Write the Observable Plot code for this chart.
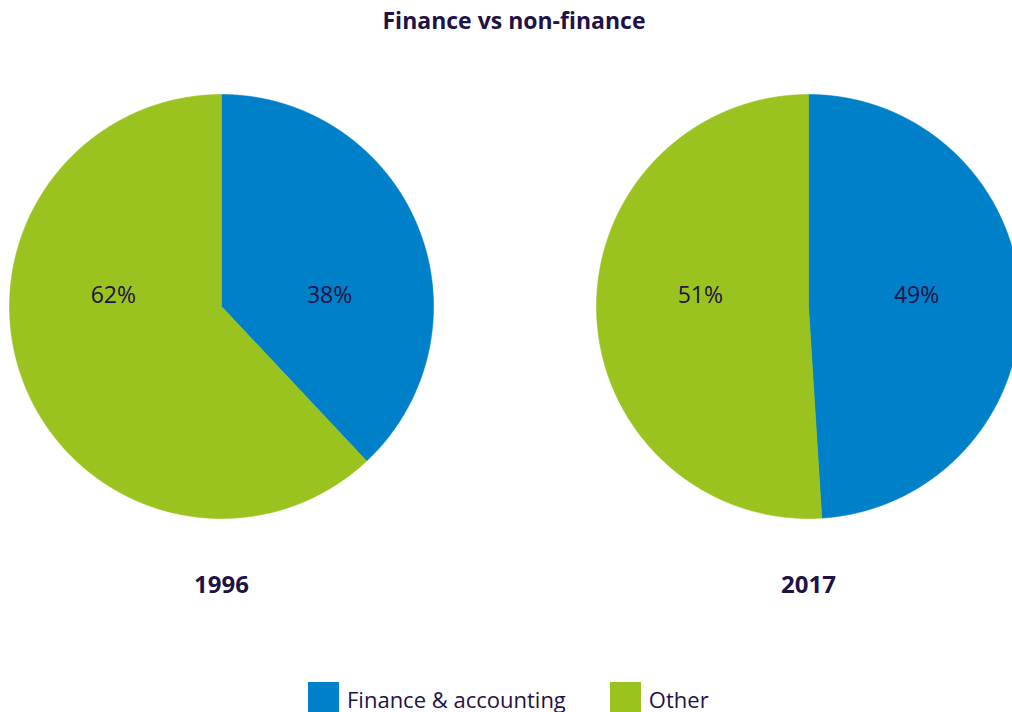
<!DOCTYPE html>
<html><head><meta charset="utf-8">
<script src="https://cdn.jsdelivr.net/npm/d3@7"></script>
<script src="https://cdn.jsdelivr.net/npm/@observablehq/plot@0.6"></script>
<style>
html,body{margin:0;padding:0;}
body{width:1012px;height:712px;overflow:hidden;background:#fff;font-family:"Open Sans",sans-serif;color:#1e1246;}
#title{box-sizing:border-box;width:1012px;height:45px;line-height:40px;font-size:23px;font-weight:bold;text-align:center;padding-left:16px;}
#chart{height:605px;}
#legend{display:flex;align-items:flex-start;padding-left:308px;margin-top:32px;}
.sw{width:31px;height:30px;flex:none;}
.lab{font-size:22px;line-height:30px;padding-top:2px;margin-left:8px;margin-right:44px;white-space:nowrap;}
</style></head>
<body>
<div id="title">Finance vs non-finance</div>
<div id="chart"></div>
<div id="legend"></div>
<script>
const years = ["1996", "2017"];
const categories = ["Finance & accounting", "Other"];
const financeShare = [38, 49];
const otherShare = [62, 51];
const palette = ["#0080c8", "#9bc31f"];
const navy = "#1e1246";

const pie = d3.pie().sort(null).value(d => d.value);
const wedges = [], labels = [];
years.forEach((year, i) => {
  const slices = pie([
    {category: categories[0], value: financeShare[i]},
    {category: categories[1], value: otherShare[i]}
  ]);
  for (const s of slices) {
    const key = year + "|" + s.data.category;
    const cat = s.data.category;
    wedges.push({year, key, category: cat, x: 0, y: 0});
    const n = Math.max(2, Math.ceil((s.endAngle - s.startAngle) / 0.005));
    for (let k = 0; k <= n; k++) {
      const a = s.startAngle + (s.endAngle - s.startAngle) * k / n;
      wedges.push({year, key, category: cat, x: Math.sin(a), y: Math.cos(a)});
    }
    wedges.push({year, key, category: cat, x: 0, y: 0});
    const mid = (s.startAngle + s.endAngle) / 2;
    labels.push({year, x: Math.sign(Math.sin(mid)) * 0.51, y: 0.05, text: s.data.value + "%"});
  }
});

const chart = Plot.plot({
  width: 1012, height: 605,
  marginTop: 49, marginBottom: 132, marginLeft: 9, marginRight: 0,
  style: {fontFamily: "Open Sans", color: navy, background: "white", overflow: "visible"},
  x: {domain: [-1, 1], axis: null},
  y: {domain: [-1, 1], axis: null},
  fx: {domain: years, range: [9, 1020], paddingInner: 163 / 587, paddingOuter: 0, round: false, label: null},
  color: {domain: categories, range: palette},
  marks: [
    Plot.line(wedges, {x: "x", y: "y", z: "key", fx: "year", fill: "category", stroke: "category", strokeWidth: 0.6, curve: "linear"}),
    Plot.text(labels, {x: "x", y: "y", fx: "year", text: "text", fontSize: 23, fill: navy}),
    Plot.axisFx({anchor: "bottom", tickSize: 0, tickPadding: 57, fontSize: 24, fontWeight: "bold", label: null})
  ]
});
document.getElementById("chart").appendChild(chart);

const legend = document.getElementById("legend");
categories.forEach((c, i) => {
  const sw = document.createElement("div");
  sw.className = "sw"; sw.style.background = palette[i];
  const lab = document.createElement("div");
  lab.className = "lab"; lab.textContent = c;
  legend.appendChild(sw); legend.appendChild(lab);
});
</script>
</body></html>
